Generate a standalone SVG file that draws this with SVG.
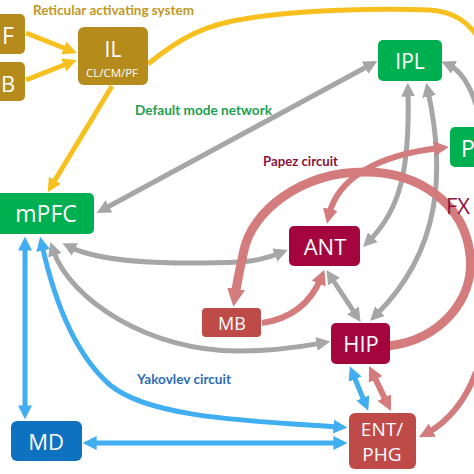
<svg xmlns="http://www.w3.org/2000/svg" width="474" height="474" viewBox="0 0 474 474">
<style>
.lbl{font-family:"Lato","Open Sans",sans-serif;font-weight:bold;font-size:13.5px}
.nt{font-family:"Open Sans","Noto Sans",sans-serif;fill:#fff;text-anchor:middle}
.g{fill:none;stroke:#A6A6A6;stroke-width:5}
.y{fill:none;stroke:#F8C01E;stroke-width:5}
.b{fill:none;stroke:#41AEF2;stroke-width:5}
.p{fill:none;stroke:#D47C7D;stroke-width:6}
</style>
<defs>
<marker id="ag" viewBox="0 0 10 10" refX="4" refY="5" markerWidth="14" markerHeight="14" markerUnits="userSpaceOnUse" orient="auto-start-reverse"><path d="M0,0 L10,5 L0,10 z" fill="#A6A6A6"/></marker>
<marker id="ay" viewBox="0 0 10 10" refX="4" refY="5" markerWidth="14" markerHeight="14" markerUnits="userSpaceOnUse" orient="auto-start-reverse"><path d="M0,0 L10,5 L0,10 z" fill="#F8C01E"/></marker>
<marker id="ab" viewBox="0 0 10 10" refX="4" refY="5" markerWidth="14" markerHeight="14" markerUnits="userSpaceOnUse" orient="auto-start-reverse"><path d="M0,0 L10,5 L0,10 z" fill="#41AEF2"/></marker>
<marker id="ap" viewBox="0 0 10 10" refX="4" refY="5" markerWidth="15" markerHeight="15" markerUnits="userSpaceOnUse" orient="auto-start-reverse"><path d="M0,0 L10,5 L0,10 z" fill="#D47C7D"/></marker>
<marker id="apL" viewBox="0 0 10 10" refX="4" refY="5" markerWidth="18" markerHeight="18" markerUnits="userSpaceOnUse" orient="auto-start-reverse"><path d="M0,0 L10,5 L0,10 z" fill="#D47C7D"/></marker>
</defs>
<rect width="474" height="474" fill="#fff"/>

<g id="connectors">
<path class="y" d="M26,33 L69,50" marker-end="url(#ay)"/>
<path class="y" d="M26,80 L69,63" marker-end="url(#ay)"/>
<path class="y" d="M112,86 L52,185" marker-end="url(#ay)"/>
<path class="y" d="M148,64 C180,38 205,24 250,18 C300,10 380,8 430,10 C455,12 468,22 480,40"/>
<path class="g" d="M104,209 L370,65" marker-start="url(#ag)" marker-end="url(#ag)"/>
<path class="g" d="M70,247 C100,262 160,265 240,262 C258,261 270,257 280,253" marker-start="url(#ag)" marker-end="url(#ag)"/>
<path class="g" d="M53,250 C70,300 150,352 240,351 C280,351 305,346 322,343" marker-start="url(#ag)" marker-end="url(#ag)"/>
<path class="g" d="M408,91 C410,170 400,210 369,241" marker-start="url(#ag)" marker-end="url(#ag)"/>
<path class="g" d="M428,91 C445,170 442,250 376,315" marker-start="url(#ag)" marker-end="url(#ag)"/>
<path class="g" d="M476,105 C470,85 460,70 449,65" marker-end="url(#ag)"/>
<path class="g" d="M331,277 L356,315" marker-start="url(#ag)" marker-end="url(#ag)"/>
<path fill="none" stroke="#D47C7D" stroke-width="9" d="M388,346 C440,340 475,300 470,255 C465,205 420,172 365,172 C300,172 252,212 244,250 C240,268 237,283 235,296" marker-end="url(#apL)"/>
<path class="p" d="M262,323 C295,318 312,300 321,278" marker-end="url(#ap)"/>
<path class="p" d="M329,215 C337,180 375,155 440,148" marker-start="url(#ap)" marker-end="url(#ap)"/>
<path class="p" d="M373,374 L387,403" marker-start="url(#ap)" marker-end="url(#ap)"/>
<path class="p" d="M476,372 C466,400 448,422 427,433" marker-end="url(#ap)"/>
<path class="b" d="M25,245 L25,411" marker-start="url(#ab)" marker-end="url(#ab)"/>
<path class="b" d="M42,245 C52,290 70,350 110,385 C150,418 250,421 339,427" marker-start="url(#ab)" marker-end="url(#ab)"/>
<path class="b" d="M91,443 L339,443" marker-start="url(#ab)" marker-end="url(#ab)"/>
<path class="b" d="M353,374 L365,403" marker-start="url(#ab)" marker-end="url(#ab)"/>
</g>

<g id="labels">
<text class="lbl" x="33" y="15" fill="#BF9826" textLength="161" lengthAdjust="spacingAndGlyphs">Reticular activating system</text>
<text class="lbl" x="135" y="115" fill="#20A050" textLength="137" lengthAdjust="spacingAndGlyphs">Default mode network</text>
<text class="lbl" x="263" y="166" fill="#8C1239" textLength="75" lengthAdjust="spacingAndGlyphs">Papez circuit</text>
<text class="lbl" x="137" y="384" fill="#2C6CB5" textLength="94" lengthAdjust="spacingAndGlyphs">Yakovlev circuit</text>
<text x="446" y="214" font-family="Open Sans, sans-serif" font-size="22" fill="#8C0F3C">FX</text>
</g>

<g id="node-F"><rect x="-10" y="14" width="35" height="40" rx="5" fill="#B58B1C"/><text class="nt" x="8" y="44" font-size="23">F</text></g>
<g id="node-B"><rect x="-10" y="62" width="35" height="39" rx="5" fill="#B58B1C"/><text class="nt" x="8" y="92" font-size="22">B</text></g>
<g id="node-IL"><rect x="78" y="27" width="70" height="58" rx="6" fill="#B58B1C"/><text class="nt" x="113" y="57" font-size="21">IL</text><text class="nt" x="112" y="77" font-size="11.5">CL/CM/PF</text></g>
<g id="node-IPL"><rect x="378" y="40" width="64" height="41" rx="5" fill="#00B050"/><text class="nt" x="410" y="69" font-size="21">IPL</text></g>
<g id="node-P"><rect x="450" y="127" width="40" height="40" rx="5" fill="#00B050"/><text class="nt" x="468" y="157" font-size="23">P</text></g>
<g id="node-mPFC"><rect x="-6" y="193" width="100" height="41" rx="5" fill="#00B050"/><text class="nt" x="46" y="222" font-size="23">mPFC</text></g>
<g id="node-ANT"><rect x="289" y="226" width="71" height="40" rx="5" fill="#A3053C"/><text class="nt" x="325" y="255" font-size="22">ANT</text></g>
<g id="node-MB"><rect x="202" y="308" width="59" height="29" rx="4" fill="#BE4B48"/><text class="nt" x="232" y="330" font-size="18">MB</text></g>
<g id="node-HIP"><rect x="331" y="323" width="59" height="41" rx="5" fill="#A3053C"/><text class="nt" x="361" y="352" font-size="22">HIP</text></g>
<g id="node-ENT"><rect x="349" y="413" width="67" height="56" rx="6" fill="#BE4B48"/><text class="nt" x="382" y="436" font-size="19">ENT/</text><text class="nt" x="382" y="461" font-size="19">PHG</text></g>
<g id="node-MD"><rect x="11" y="421" width="71" height="40" rx="6" fill="#0E72C1"/><text class="nt" x="46" y="450" font-size="22">MD</text></g>
</svg>
